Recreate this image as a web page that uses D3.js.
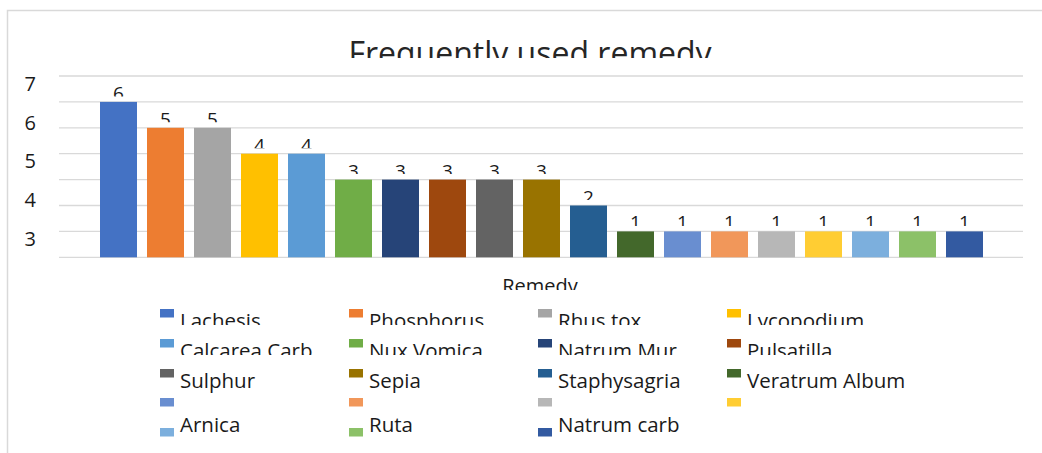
<!DOCTYPE html>
<html>
<head>
<meta charset="utf-8">
<script src="https://cdn.jsdelivr.net/npm/d3@7"></script>
<style>
  body { margin: 0; background: #fff; }
  svg { display: block; font-family: "Open Sans", "Noto Sans", sans-serif; }
</style>
</head>
<body>
<svg id="chart" width="1042" height="453"></svg>
<script>
// data
const remedies = ['Lachesis', 'Phosphorus', 'Rhus tox', 'Lycopodium', 'Calcarea Carb', 'Nux Vomica',
  'Natrum Mur', 'Pulsatilla', 'Sulphur', 'Sepia', 'Staphysagria', 'Veratrum Album',
  '', '', '', '', 'Arnica', 'Ruta', 'Natrum carb'];
const counts = [6, 5, 5, 4, 4, 3, 3, 3, 3, 3, 2, 1, 1, 1, 1, 1, 1, 1, 1];
const gridTicks = [0, 1, 2, 3, 4, 5, 6, 7];
const yTickLabels = ['7', '6', '5', '4', '3'];
const COLORS = ['#4472C4', '#ED7D31', '#A5A5A5', '#FFC000', '#5B9BD5', '#70AD47', '#264478', '#9E480E',
  '#636363', '#997300', '#255E91', '#43682B', '#698ED0', '#F1975A', '#B7B7B7', '#FFCD33',
  '#7CAFDD', '#8CC168', '#335AA1'];

const title = 'Frequently used remedy';
const xTitle = 'Remedy';

const svg = d3.select('#chart');
const defs = svg.append('defs');
let clipId = 0;
function clipAbove(sel, yCut) {
  const id = 'clip' + (clipId++);
  defs.append('clipPath').attr('id', id)
      .append('rect').attr('x', 0).attr('y', 0).attr('width', 1042).attr('height', yCut);
  sel.attr('clip-path', `url(#${id})`);
}

// chart frame
svg.append('path')
    .attr('d', 'M7.5,453 V10.5 H1042')
    .attr('fill', 'none')
    .attr('stroke', '#d9d9d9')
    .attr('stroke-width', 1.5);

const idx = d3.range(counts.length);
const x = d3.scaleBand()
    .domain(idx)
    .range([95, 988])
    .paddingInner(10 / 47)
    .paddingOuter(5 / 47);

const y = d3.scaleLinear().domain([0, 7]).range([257.3, 76]);
const yLabel = d3.scalePoint().domain(yTickLabels).range([83.7, 238.5]);

// gridlines
svg.append('g')
    .selectAll('line')
    .data(gridTicks)
    .join('line')
    .attr('x1', 59)
    .attr('x2', 1023)
    .attr('y1', d => y(d))
    .attr('y2', d => y(d))
    .attr('stroke', '#d9d9d9')
    .attr('stroke-width', 1.3);

// y labels
svg.append('g')
    .selectAll('text')
    .data(yTickLabels)
    .join('text')
    .attr('x', 36)
    .attr('y', d => yLabel(d))
    .attr('dy', '0.36em')
    .attr('text-anchor', 'end')
    .attr('font-size', 20)
    .attr('fill', '#1a1a1a')
    .text(d => d);

// bars
svg.append('g')
    .selectAll('rect')
    .data(idx)
    .join('rect')
    .attr('x', i => x(i))
    .attr('width', x.bandwidth())
    .attr('y', i => y(counts[i]))
    .attr('height', i => y(0) - y(counts[i]))
    .attr('fill', i => COLORS[i]);

// data labels, bottoms cut off like the original
const labels = svg.append('g');
idx.forEach(i => {
  const t = labels.append('text')
      .attr('x', x(i) + x.bandwidth() / 2)
      .attr('y', y(counts[i]) - 2)
      .attr('text-anchor', 'middle')
      .attr('font-size', 19)
      .attr('fill', '#1a1a1a')
      .text(counts[i]);
  clipAbove(t, y(counts[i]) - 5.5);
});

// title
const titleText = svg.append('text')
    .attr('x', 530)
    .attr('y', 65)
    .attr('text-anchor', 'middle')
    .attr('font-size', 32)
    .attr('fill', '#262626')
    .text(title);
clipAbove(titleText, 58);

// axis title
const xTitleText = svg.append('text')
    .attr('x', 540)
    .attr('y', 293)
    .attr('text-anchor', 'middle')
    .attr('font-size', 20)
    .attr('fill', '#1a1a1a')
    .text(xTitle);
clipAbove(xTitleText, 290);

// legend
const colX = [160, 349, 538, 727];
const rowSwatchY = [309, 339, 369, 398, 428];
const rowTextY = [328, 358, 388, 418, 432];
const rowCut = [325, 355, null, null, null];
const legend = svg.append('g');
remedies.forEach((name, i) => {
  const r = Math.floor(i / 4), c = i % 4;
  legend.append('rect')
      .attr('x', colX[c])
      .attr('y', rowSwatchY[r])
      .attr('width', 14)
      .attr('height', 8.5)
      .attr('fill', COLORS[i]);
  const t = legend.append('text')
      .attr('x', colX[c] + 20)
      .attr('y', rowTextY[r])
      .attr('font-size', 20.5)
      .attr('fill', '#1a1a1a')
      .text(name);
  if (rowCut[r] !== null) clipAbove(t, rowCut[r]);
});
</script>
</body>
</html>
